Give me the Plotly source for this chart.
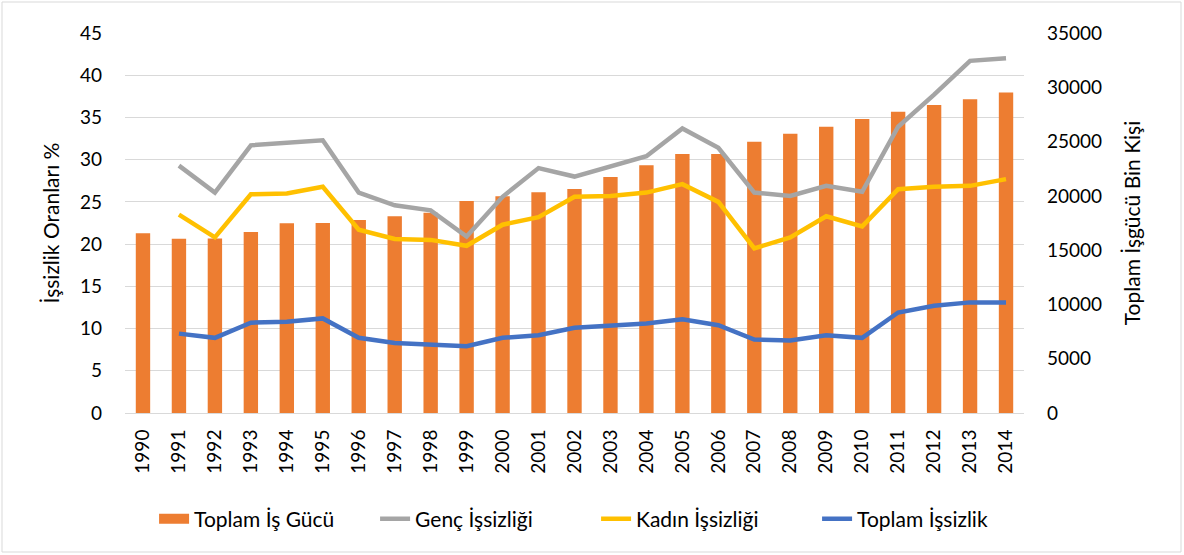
import plotly.graph_objects as go

# years on the category axis
years = [str(y) for y in range(1990, 2015)]

# total labour force, thousand persons (right axis)
toplam_is_gucu = [16550, 16060, 16080, 16670, 17470, 17500, 17780, 18120, 18450, 19530,
                  19960, 20330, 20630, 21740, 22810, 23860, 23860, 24990, 25730, 26370,
                  27080, 27750, 28370, 28890, 29530]

# unemployment rates, % (left axis)
genc_issizligi = [None, 29.3, 26.1, 31.7, 32.0, 32.3, 26.1, 24.6, 24.0, 20.9,
                  25.6, 29.0, 28.0, 29.2, 30.4, 33.7, 31.4, 26.1, 25.7, 26.9,
                  26.2, 33.9, 37.7, 41.7, 42.0]
kadin_issizligi = [None, 23.5, 20.8, 25.9, 26.0, 26.8, 21.7, 20.6, 20.5, 19.8,
                   22.3, 23.2, 25.6, 25.7, 26.1, 27.1, 25.0, 19.5, 20.8, 23.3,
                   22.1, 26.5, 26.8, 26.9, 27.7]
toplam_issizlik = [None, 9.4, 8.9, 10.7, 10.8, 11.2, 8.9, 8.3, 8.05, 7.9,
                   8.9, 9.2, 10.1, 10.3, 10.6, 11.1, 10.4, 8.7, 8.6, 9.2,
                   8.9, 11.9, 12.7, 13.1, 13.1]

FONT = "Lato"
ORANGE = "#ED7D31"

fig = go.Figure()

fig.add_trace(go.Bar(
    x=years, y=toplam_is_gucu, name="Toplam İş Gücü",
    marker=dict(color=ORANGE, line=dict(width=0)),
    yaxis="y", showlegend=False,
))
# legend-only entry so the bar key is a wide block like the original
fig.add_trace(go.Scatter(
    x=[None], y=[None], name="Toplam İş Gücü", mode="lines",
    line=dict(color=ORANGE, width=14), yaxis="y",
))

line_series = [
    ("Genç İşsizliği", genc_issizligi, "#A5A5A5"),
    ("Kadın İşsizliği", kadin_issizligi, "#FFC000"),
    ("Toplam İşsizlik", toplam_issizlik, "#4472C4"),
]
for name, vals, color in line_series:
    fig.add_trace(go.Scatter(
        x=years, y=vals, name=name, mode="lines",
        line=dict(color=color, width=4.5),
        yaxis="y2",
    ))

fig.update_layout(
    width=1184, height=555,
    margin=dict(l=125, r=160, t=33, b=142, autoexpand=False),
    paper_bgcolor="white", plot_bgcolor="white",
    font=dict(family=FONT, size=19, color="#000000"),
    bargap=0.6,
    showlegend=True,
    legend=dict(
        orientation="h", x=0.524, xanchor="center", y=-0.279, yanchor="middle",
        font=dict(size=21), traceorder="normal", bgcolor="rgba(0,0,0,0)",
        entrywidth=176, entrywidthmode="pixels",
    ),
    xaxis=dict(
        type="category", tickangle=-90, showgrid=False,
        showline=True, linecolor="#D9D9D9", linewidth=1,
        ticks="", tickfont=dict(size=19), ticklabelstandoff=8,
    ),
    yaxis=dict(
        side="right", range=[0, 35000], dtick=5000, tickformat="d",
        showgrid=False, zeroline=False, ticks="", tickfont=dict(size=19),
        ticklabelstandoff=22,
        title=dict(text="Toplam İşgücü Bin Kişi", font=dict(size=21), standoff=24),
    ),
    yaxis2=dict(
        side="left", overlaying="y", range=[0, 45], dtick=5,
        showgrid=True, gridcolor="#D9D9D9", gridwidth=1,
        zeroline=False, ticks="", tickfont=dict(size=19),
        ticklabelstandoff=22,
        title=dict(text="İşsizlik Oranları %", font=dict(size=21), standoff=14),
    ),
)

# outer chart border
fig.add_shape(type="rect", xref="paper", yref="paper",
              x0=-123 / 899, x1=1056 / 899, y0=-139 / 380, y1=411 / 380,
              line=dict(color="#D9D9D9", width=1), fillcolor="rgba(0,0,0,0)")

fig.write_html("out.html", config={"displayModeBar": False},
               post_script="document.body.style.margin = '0';")
